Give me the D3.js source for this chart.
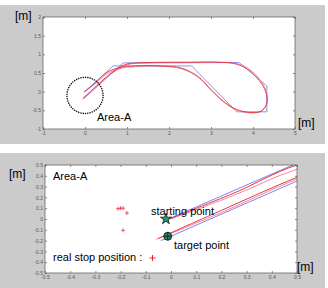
<!DOCTYPE html>
<html>
<head>
<meta charset="utf-8">
<script src="https://cdn.jsdelivr.net/npm/d3@7"></script>
<style>
  body { margin: 0; background: #fff; }
  svg { display: block; font-family: 'Liberation Sans', Arial, sans-serif; }
  .tick text { font-size: 5px; fill: #555; }
  .tick line { stroke: #444; stroke-width: 0.6; }
</style>
</head>
<body>
<div id="fig"></div>
<script>
// waypoint polyline (blue)
var waypoints = [[-0.02,-0.01],[0.67,0.69],[2.54,0.69],[3.61,-0.54],[4.33,-0.54],[4.33,0.15],[3.67,0.78],[0.91,0.77],[-0.04,-0.2]];
// two driven paths (red)
var pathA = [[-0.02,-0.01],[0.25,0.24],[0.5,0.5],[0.8,0.64],[1.2,0.69],[1.8,0.69],[2.3,0.63],[2.7,0.4],[3.0,0.06],[3.3,-0.26],[3.6,-0.47],[3.95,-0.56],[4.2,-0.52],[4.33,-0.3],[4.3,0.0],[4.15,0.3],[3.9,0.58],[3.6,0.74],[3.2,0.79],[2.5,0.79],[1.5,0.78],[1.0,0.74],[0.75,0.6],[0.5,0.386],[0.2,0.08],[-0.05,-0.18]];
var pathB = [[0,0],[0.25,0.22],[0.5,0.46],[0.8,0.61],[1.2,0.67],[1.8,0.68],[2.3,0.61],[2.7,0.38],[3.0,0.04],[3.3,-0.28],[3.6,-0.49],[3.95,-0.57],[4.22,-0.5],[4.34,-0.28],[4.31,0.02],[4.17,0.32],[3.92,0.6],[3.62,0.75],[3.2,0.785],[2.5,0.78],[1.5,0.77],[1.0,0.72],[0.75,0.57],[0.5,0.37],[0.2,0.06],[-0.06,-0.19]];
var stopPositions = [[-0.21,0.095],[-0.2,0.1],[-0.19,0.1],[-0.175,0.055],[-0.19,-0.105]];
var startPoint = [-0.02, 0.0];
var targetPoint = [-0.013, -0.16];
var areaCenter = [0, -0.1];

var xTicksTop = [-1,0,1,2,3,4,5];
var yTicksTop = [-1,-0.5,0,0.5,1,1.5,2];
var ticksZoom = [-0.5,-0.4,-0.3,-0.2,-0.1,0,0.1,0.2,0.3,0.4,0.5];

var W = 328, H = 288;
var svg = d3.select('#fig').append('svg').attr('width', W).attr('height', H);

svg.append('rect').attr('x',0).attr('y',5).attr('width',325).attr('height',139).attr('fill','#cbcbcb');
svg.append('rect').attr('x',0).attr('y',153).attr('width',325).attr('height',135).attr('fill','#cbcbcb');

function panel(id, x0, x1, y0, y1, xdom, ydom, xt, yt) {
    var x = d3.scaleLinear().domain(xdom).range([x0, x1]);
    var y = d3.scaleLinear().domain(ydom).range([y1, y0]);
    var g = svg.append('g');
    g.append('rect').attr('x',x0).attr('y',y0).attr('width',x1-x0).attr('height',y1-y0).attr('fill','#fff');
    svg.append('clipPath').attr('id',id).append('rect')
        .attr('x',x0).attr('y',y0).attr('width',x1-x0).attr('height',y1-y0);
    var fmt = d => String(+d.toFixed(2));
    g.append('g').attr('transform',`translate(0,${y1})`)
        .call(d3.axisBottom(x).tickValues(xt).tickSize(-2).tickPadding(2).tickFormat(fmt));
    g.append('g').attr('transform',`translate(0,${y0})`)
        .call(d3.axisTop(x).tickValues(xt).tickSize(-2).tickFormat(''));
    g.append('g').attr('transform',`translate(${x0},0)`)
        .call(d3.axisLeft(y).tickValues(yt).tickSize(-2).tickPadding(2).tickFormat(fmt));
    g.append('g').attr('transform',`translate(${x1},0)`)
        .call(d3.axisRight(y).tickValues(yt).tickSize(-2).tickFormat(''));
    g.selectAll('.domain').remove();
    g.selectAll('g').attr('font-family', null).attr('font-size', null);
    var plot = svg.append('g').attr('clip-path',`url(#${id})`);
    svg.append('rect').attr('x',x0).attr('y',y0).attr('width',x1-x0).attr('height',y1-y0)
        .attr('fill','none').attr('stroke','#555').attr('stroke-width',0.7);
    return {x: x, y: y, plot: plot};
}

function drawPaths(p, w) {
    var line = d3.line().x(d => p.x(d[0])).y(d => p.y(d[1]));
    var smooth = d3.line().x(d => p.x(d[0])).y(d => p.y(d[1])).curve(d3.curveCatmullRom.alpha(0.5));
    p.plot.append('path').datum(waypoints).attr('d', line)
        .attr('fill','none').attr('stroke','#7474f2').attr('stroke-width', w);
    p.plot.append('path').datum(pathB).attr('d', smooth)
        .attr('fill','none').attr('stroke','#f07a8a').attr('stroke-width', w);
    p.plot.append('path').datum(pathA).attr('d', smooth)
        .attr('fill','none').attr('stroke','#e3202e').attr('stroke-width', w);
}

// top panel
var topP = panel('clipTop', 43, 295, 17, 129, [-1,5], [-1,2], xTicksTop, yTicksTop);
drawPaths(topP, 0.8);
var rPix = topP.x(0.43) - topP.x(0);
topP.plot.append('circle').attr('cx', topP.x(areaCenter[0])).attr('cy', topP.y(areaCenter[1])).attr('r', rPix)
    .attr('fill','none').attr('stroke','#111').attr('stroke-width',1.5)
    .attr('stroke-dasharray','0.1,2.2').attr('stroke-linecap','round');
svg.append('text').attr('x',97).attr('y',121).attr('font-size',11).text('Area-A');
svg.append('text').attr('x',15).attr('y',20).attr('font-size',12).text('[m]');
svg.append('text').attr('x',298).attr('y',127).attr('font-size',12).text('[m]');

// bottom panel
var botP = panel('clipBot', 45, 297, 165, 273, [-0.5,0.5], [-0.5,0.5], ticksZoom, ticksZoom);
drawPaths(botP, 0.9);
botP.plot.selectAll('.stop').data(stopPositions).enter().append('path')
    .attr('class','stop')
    .attr('transform', d => `translate(${botP.x(d[0])},${botP.y(d[1])})`)
    .attr('d','M-2,0H2M0,-2V2').attr('stroke','#e3202e').attr('stroke-width',0.7);
botP.plot.append('path').attr('d', d3.symbol().type(d3.symbolStar).size(38)())
    .attr('transform',`translate(${botP.x(startPoint[0])},${botP.y(startPoint[1])})`)
    .attr('fill','#1e9e6e').attr('stroke','#111').attr('stroke-width',0.8);
var tg = botP.plot.append('g').attr('transform',`translate(${botP.x(targetPoint[0])},${botP.y(targetPoint[1])})`);
tg.append('circle').attr('r',4).attr('fill','#1e8a5e').attr('stroke','#111').attr('stroke-width',0.8);
tg.append('path').attr('d','M-4,0H4M0,-4V4').attr('stroke','#111').attr('stroke-width',0.7);

svg.append('text').attr('x',53).attr('y',180).attr('font-size',11).text('Area-A');
svg.append('text').attr('x',151).attr('y',215).attr('font-size',11).text('starting point');
svg.append('text').attr('x',174).attr('y',249).attr('font-size',11).text('target point');
svg.append('text').attr('x',53).attr('y',261).attr('font-size',11).text('real stop position :');
svg.append('path').attr('d','M149.5,258H155.5M152.5,255V261').attr('stroke','#e3202e').attr('stroke-width',1);
svg.append('text').attr('x',9).attr('y',178).attr('font-size',12).text('[m]');
svg.append('text').attr('x',297).attr('y',271).attr('font-size',12).text('[m]');
</script>
</body>
</html>
